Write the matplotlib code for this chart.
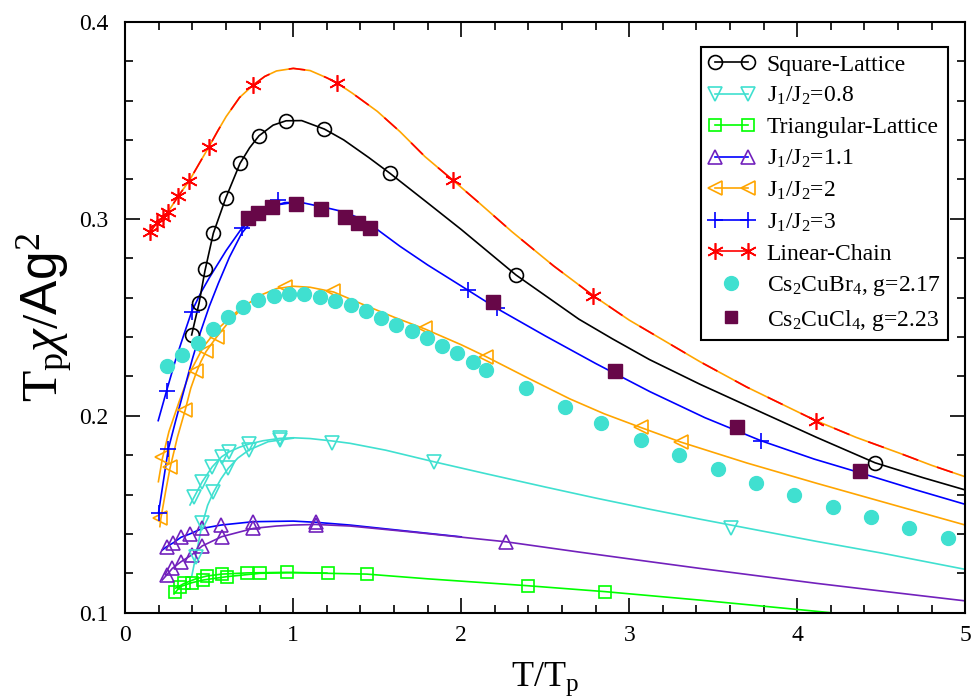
import matplotlib
matplotlib.use('Agg')
import matplotlib.pyplot as plt
from matplotlib.lines import Line2D
from matplotlib.legend_handler import HandlerLine2D
from matplotlib.ticker import MultipleLocator, FormatStrFormatter

plt.rcParams['font.family'] = ['Liberation Serif', 'DejaVu Serif']
plt.rcParams['mathtext.fontset'] = 'custom'
plt.rcParams['mathtext.rm'] = 'Liberation Serif'
plt.rcParams['mathtext.it'] = 'Liberation Serif:italic'
plt.rcParams['mathtext.sf'] = 'Liberation Sans'

# ---------------- data ----------------
# Linear chain (curve + markers)
lc_x = [0.148, 0.187, 0.222, 0.252, 0.316, 0.381, 0.44, 0.498, 0.55, 0.6, 0.68, 0.762, 0.83, 0.9,
        1.0, 1.1, 1.2, 1.258, 1.35, 1.5, 1.635, 1.784, 1.949, 2.1, 2.3, 2.55, 2.786, 3.0, 3.12,
        3.421, 3.7, 4.11, 4.35, 4.611, 4.8, 5.0]
lc_y = [0.2934, 0.2977, 0.3010, 0.3032, 0.3115, 0.3193, 0.3280, 0.3365, 0.3445, 0.3518, 0.3615,
        0.3679, 0.3722, 0.3750, 0.3763, 0.3752, 0.3715, 0.3690, 0.3638, 0.3545, 0.3442, 0.3315,
        0.3196, 0.3085, 0.2935, 0.2760, 0.2609, 0.2485, 0.2425, 0.2274, 0.2145, 0.1975, 0.1890,
        0.1809, 0.1748, 0.1690]
lc_mx = [0.148, 0.187, 0.222, 0.252, 0.316, 0.381, 0.498, 0.762, 1.258, 1.949, 2.786, 4.110]
lc_my = [0.2934, 0.2977, 0.3010, 0.3032, 0.3115, 0.3193, 0.3365, 0.3679, 0.3690, 0.3196, 0.2609, 0.1975]

# Square lattice
sq_x = [0.395, 0.439, 0.474, 0.524, 0.599, 0.683, 0.74, 0.796, 0.88, 0.957, 1.05, 1.185, 1.3,
        1.45, 1.576, 1.8, 2.0, 2.326, 2.7, 2.9, 3.12, 3.42, 3.8, 4.115, 4.463, 4.75, 5.0]
sq_y = [0.2410, 0.2571, 0.2735, 0.2926, 0.3107, 0.3281, 0.3360, 0.3421, 0.3475, 0.3497, 0.3498,
        0.3455, 0.3400, 0.3310, 0.3230, 0.3080, 0.2945, 0.2714, 0.2490, 0.2390, 0.2285, 0.2160,
        0.2012, 0.1890, 0.1761, 0.1685, 0.1623]
sq_mx = [0.395, 0.439, 0.474, 0.524, 0.599, 0.683, 0.796, 0.957, 1.185, 1.576, 2.326, 4.463]
sq_my = [0.2410, 0.2571, 0.2743, 0.2926, 0.3107, 0.3281, 0.3421, 0.3497, 0.3455, 0.3230, 0.2714, 0.1761]

# J1/J2 = 3 (two branches)
j3a_x = [0.196, 0.246, 0.3, 0.35, 0.395, 0.45, 0.5, 0.6, 0.693, 0.8, 0.875, 0.95, 1.05, 1.2, 1.3,
         1.387, 1.5, 1.635, 1.8, 2.038, 2.211, 2.5, 2.8, 3.123, 3.45, 3.784, 4.1, 4.371, 4.7, 5.0]
j3a_y = [0.1975, 0.2127, 0.2285, 0.2415, 0.2528, 0.2625, 0.2700, 0.2838, 0.2951, 0.3025, 0.3062,
         0.3082, 0.3082, 0.3055, 0.3035, 0.3005, 0.2945, 0.2860, 0.2765, 0.2638, 0.2545, 0.2405,
         0.2265, 0.2122, 0.1990, 0.1873, 0.1780, 0.1711, 0.1625, 0.1550]
j3b_x = [0.198, 0.256, 0.3, 0.355, 0.4, 0.445, 0.5, 0.554, 0.62, 0.693, 0.75, 0.8, 0.9, 1.0]
j3b_y = [0.1508, 0.1830, 0.1975, 0.2147, 0.2290, 0.2418, 0.2555, 0.2672, 0.2805, 0.2926, 0.2985,
         0.3020, 0.3070, 0.3082]
j3_mx = [0.198, 0.256, 0.246, 0.395, 0.693, 0.907, 2.038, 2.211, 3.784]
j3_my = [0.1508, 0.1830, 0.2127, 0.2528, 0.2951, 0.3095, 0.2638, 0.2545, 0.1873]

# J1/J2 = 2 (two branches)
j2a_x = [0.197, 0.22, 0.26, 0.32, 0.385, 0.465, 0.55, 0.62, 0.7]
j2a_y = [0.1665, 0.1780, 0.1920, 0.2070, 0.2220, 0.2350, 0.2440, 0.2495, 0.2555]
j2b_x = [0.206, 0.212, 0.24, 0.266, 0.31, 0.356, 0.39, 0.421, 0.45, 0.48, 0.544, 0.62, 0.7, 0.8,
         0.9, 1.0, 1.1, 1.24, 1.4, 1.6, 1.784, 2.0, 2.147, 2.4, 2.647, 2.85, 3.069, 3.307, 3.7,
         4.115, 4.611, 5.0]
j2b_y = [0.1437, 0.1480, 0.1615, 0.1733, 0.1890, 0.2027, 0.2140, 0.2215, 0.2275, 0.2325, 0.2400,
         0.2480, 0.2550, 0.2610, 0.2645, 0.2657, 0.2652, 0.2628, 0.2570, 0.2500, 0.2440, 0.2360,
         0.2300, 0.2190, 0.2085, 0.2010, 0.1940, 0.1866, 0.1760, 0.1657, 0.1538, 0.1445]
j2_mx = [0.208, 0.22, 0.264, 0.356, 0.421, 0.48, 0.544, 0.951, 1.238, 1.784, 2.147, 3.069, 3.307]
j2_my = [0.1480, 0.1790, 0.1740, 0.2027, 0.2225, 0.2330, 0.2398, 0.2655, 0.2634, 0.2444, 0.2300,
         0.1944, 0.1866]

# J1/J2 = 0.8 (two branches)
j08a_x = [0.385, 0.411, 0.458, 0.518, 0.574, 0.619, 0.68, 0.736, 0.82, 0.921, 1.0, 1.1, 1.229,
          1.337, 1.55, 1.833, 2.15, 2.5, 2.8, 3.123, 3.42, 3.605, 3.85, 4.115, 4.5, 5.0]
j08a_y = [0.1547, 0.1589, 0.1665, 0.1741, 0.1792, 0.1817, 0.1840, 0.1856, 0.1873, 0.1885, 0.1888,
          0.1884, 0.1872, 0.1860, 0.1825, 0.1767, 0.1705, 0.1638, 0.1582, 0.1525, 0.1475, 0.1445,
          0.1405, 0.1362, 0.1303, 0.1220]
j08b_x = [0.395, 0.419, 0.455, 0.49, 0.524, 0.57, 0.613, 0.67, 0.736, 0.85, 1.0]
j08b_y = [0.1183, 0.1284, 0.1440, 0.1545, 0.1610, 0.1680, 0.1733, 0.1785, 0.1826, 0.1868, 0.1886]
j08_mx = [0.411, 0.458, 0.518, 0.574, 0.619, 0.736, 0.921, 1.229, 1.838, 3.605,
          0.419, 0.455, 0.524, 0.613, 0.736, 0.921]
j08_my = [0.1589, 0.1665, 0.1741, 0.1792, 0.1817, 0.1856, 0.1885, 0.1863, 0.1767, 0.1428,
          0.1284, 0.1454, 0.1614, 0.1733, 0.1826, 0.1878]

# J1/J2 = 1.1 (two branches)
j11a_x = [0.22, 0.246, 0.286, 0.332, 0.385, 0.458, 0.570, 0.762, 1.0, 1.133, 1.337, 2.0]
j11a_y = [0.1318, 0.1335, 0.1355, 0.1383, 0.1400, 0.1428, 0.1445, 0.1462, 0.1465, 0.1459, 0.1445,
          0.1385]
j11b_x = [0.22, 0.246, 0.280, 0.332, 0.395, 0.458, 0.574, 0.762, 0.9, 1.0, 1.133, 1.337, 1.7,
          2.266, 2.7, 3.123, 3.42, 4.115, 4.5, 5.0]
j11b_y = [0.1166, 0.1191, 0.1225, 0.1259, 0.1293, 0.1339, 0.1386, 0.1428, 0.1440, 0.1445, 0.1448,
          0.1440, 0.1410, 0.1360, 0.1308, 0.1259, 0.1225, 0.1149, 0.1110, 0.1060]
j11_mx = [0.246, 0.286, 0.332, 0.385, 0.458, 0.570, 0.762, 1.133,
          0.246, 0.280, 0.332, 0.395, 0.458, 0.574, 0.762, 1.133, 2.266]
j11_my = [0.1335, 0.1355, 0.1383, 0.1400, 0.1428, 0.1445, 0.1462, 0.1459,
          0.1191, 0.1225, 0.1259, 0.1293, 0.1339, 0.1386, 0.1428, 0.1445, 0.1360]

# Triangular lattice (two branches)
tr_a_x = [0.30, 0.351, 0.42, 0.484, 0.574, 0.723, 0.961, 1.2]
tr_a_y = [0.1125, 0.1149, 0.1172, 0.1186, 0.1196, 0.1202, 0.1205, 0.1201]
tr_b_x = [0.29, 0.326, 0.395, 0.464, 0.604, 0.802, 1.0, 1.205, 1.437, 1.8, 2.395, 2.855, 3.42, 4.25]
tr_b_y = [0.1095, 0.1132, 0.1152, 0.1166, 0.1183, 0.1200, 0.1203, 0.1200, 0.1196, 0.1172, 0.1137,
          0.1107, 0.1064, 0.0996]
tr_mx = [0.351, 0.484, 0.574, 0.723, 0.961,
         0.296, 0.326, 0.395, 0.464, 0.604, 0.802, 1.205, 1.437, 2.395, 2.855]
tr_my = [0.1149, 0.1186, 0.1196, 0.1200, 0.1205,
         0.1107, 0.1132, 0.1152, 0.1166, 0.1183, 0.1200, 0.1200, 0.1196, 0.1137, 0.1107]

# Experimental data
br_x = [0.246, 0.339, 0.431, 0.520, 0.610, 0.702, 0.792, 0.887, 0.974, 1.065, 1.159, 1.248, 1.343,
        1.431, 1.523, 1.611, 1.705, 1.794, 1.887, 1.976, 2.068, 2.145, 2.385, 2.617, 2.830, 3.070,
        3.298, 3.526, 3.754, 3.982, 4.211, 4.439, 4.667, 4.895]
br_y = [0.2254, 0.2308, 0.2368, 0.2440, 0.2503, 0.2553, 0.2587, 0.2608, 0.2618, 0.2616, 0.2604,
        0.2582, 0.2562, 0.2531, 0.2497, 0.2460, 0.2430, 0.2393, 0.2354, 0.2317, 0.2274, 0.2232,
        0.2139, 0.2046, 0.1961, 0.1877, 0.1799, 0.1728, 0.1660, 0.1597, 0.1538, 0.1484, 0.1428,
        0.1381]
cl_x = [0.732, 0.792, 0.872, 1.014, 1.165, 1.308, 1.383, 1.457, 2.187, 2.915, 3.643, 4.371]
cl_y = [0.3002, 0.3030, 0.3058, 0.3073, 0.3049, 0.3010, 0.2977, 0.2951, 0.2579, 0.2227, 0.1944,
        0.1719]

labels = ['Square-Lattice', r'J$_{\rm 1}$/J$_{\rm 2}$=0.8', 'Triangular-Lattice',
          r'J$_{\rm 1}$/J$_{\rm 2}$=1.1', r'J$_{\rm 1}$/J$_{\rm 2}$=2', r'J$_{\rm 1}$/J$_{\rm 2}$=3',
          'Linear-Chain', r'Cs$_{\rm 2}$CuBr$_{\rm 4}$, g=2.17', r'Cs$_{\rm 2}$CuCl$_{\rm 4}$, g=2.23']

# ---------------- style ----------------
BLACK = 'black'
TURQ = '#40e0d0'
GREEN = '#00ff00'
INDIGO = '#7221bc'
ORANGE = '#ffa500'
BLUE = '#0000ff'
RED = '#ff0000'
MAROON = '#670748'
LW = 1.2
MEW = 1.2

fig = plt.figure(figsize=(9.72, 7.0), dpi=100)
ax = fig.add_axes([0.1289, 0.1247, 0.8642, 0.8443])

# lines
ax.plot(tr_a_x, tr_a_y, color=GREEN, lw=LW, zorder=2)
ax.plot(tr_b_x, tr_b_y, color=GREEN, lw=LW, zorder=2)
ax.plot(j11a_x, j11a_y, color=BLUE, lw=LW, zorder=2)
ax.plot(j11b_x, j11b_y, color=INDIGO, lw=LW, zorder=2.05)
ax.plot(j08a_x, j08a_y, color=TURQ, lw=LW, zorder=2)
ax.plot(j08b_x, j08b_y, color=TURQ, lw=LW, zorder=2)
ax.plot(j2a_x, j2a_y, color=ORANGE, lw=LW, zorder=2)
ax.plot(j2b_x, j2b_y, color=ORANGE, lw=LW, zorder=2)
ax.plot(j3a_x, j3a_y, color=BLUE, lw=LW, zorder=2)
ax.plot(j3b_x, j3b_y, color=BLUE, lw=LW, zorder=2)
ax.plot(sq_x, sq_y, color=BLACK, lw=LW, zorder=2)
ax.plot(lc_x, lc_y, color=ORANGE, lw=LW, zorder=2)
ax.plot(lc_x, lc_y, color=RED, lw=LW, dashes=(10, 12), zorder=2.1)

# markers
ax.plot(tr_mx, tr_my, ls='none', marker='s', ms=8, mfc='none', mec=GREEN, mew=MEW, zorder=3)
ax.plot(j11_mx, j11_my, ls='none', marker='^', ms=10, mfc='none', mec=INDIGO, mew=MEW, zorder=3)
ax.plot(j08_mx, j08_my, ls='none', marker='v', ms=10, mfc='none', mec=TURQ, mew=MEW, zorder=3)
ax.plot(j2_mx, j2_my, ls='none', marker='<', ms=10, mfc='none', mec=ORANGE, mew=MEW, zorder=3)
ax.plot(j3_mx, j3_my, ls='none', marker='+', ms=12, mec=BLUE, mew=MEW, zorder=3)
ax.plot(sq_mx, sq_my, ls='none', marker='o', ms=10, mfc='none', mec=BLACK, mew=MEW, zorder=3)
ax.plot(lc_mx, lc_my, ls='none', marker=(6, 2, 0), ms=12, mec=RED, mew=MEW, zorder=3)
ax.plot(br_x, br_y, ls='none', marker='o', ms=10, mfc=TURQ, mec=TURQ, zorder=4)
ax.plot(cl_x, cl_y, ls='none', marker='s', ms=10, mfc=MAROON, mec=MAROON, zorder=4)

# axes
ax.set_xlim(0, 5)
ax.set_ylim(0.1, 0.4)
ax.xaxis.set_major_locator(MultipleLocator(1))
ax.xaxis.set_minor_locator(MultipleLocator(0.2))
ax.yaxis.set_major_locator(MultipleLocator(0.1))
ax.yaxis.set_minor_locator(MultipleLocator(0.02))
ax.xaxis.set_major_formatter(FormatStrFormatter('%d'))
ax.yaxis.set_major_formatter(FormatStrFormatter('%.1f'))
ax.tick_params(which='both', direction='in', top=True, right=True, width=1.2, labelsize=17)
ax.tick_params(which='major', length=11)
ax.tick_params(axis='y', which='major', pad=12)
ax.tick_params(axis='x', which='major', pad=9)
ax.tick_params(which='minor', length=5.5)
for s in ax.spines.values():
    s.set_linewidth(1.5)

ax.set_xlabel(r'T/T$_{\rm p}$', fontsize=26, labelpad=10)
ax.set_ylabel(r'T$_{\rm p}\chi/\mathsf{Ag}^{2}$', fontsize=37, labelpad=2)

# legend
handles = [
    Line2D([], [], color=BLACK, lw=LW, marker='o', ms=10, mfc='none', mec=BLACK, mew=MEW),
    Line2D([], [], color=TURQ, lw=LW, marker='v', ms=10, mfc='none', mec=TURQ, mew=MEW),
    Line2D([], [], color=GREEN, lw=LW, marker='s', ms=8, mfc='none', mec=GREEN, mew=MEW),
    Line2D([], [], color=BLUE, lw=LW, marker='^', ms=10, mfc='none', mec=INDIGO, mew=MEW),
    Line2D([], [], color=ORANGE, lw=LW, marker='<', ms=10, mfc='none', mec=ORANGE, mew=MEW),
    Line2D([], [], color=BLUE, lw=LW, marker='+', ms=12, mec=BLUE, mew=MEW),
    Line2D([], [], color=RED, lw=LW, marker=(6, 2, 0), ms=12, mec=RED, mew=MEW),
    Line2D([], [], ls='none', marker='o', ms=10, mfc=TURQ, mec=TURQ),
    Line2D([], [], ls='none', marker='s', ms=9, mfc=MAROON, mec=MAROON),
]
hmap = {handles[7]: HandlerLine2D(numpoints=1), handles[8]: HandlerLine2D(numpoints=1)}
leg = ax.legend(handles, labels, loc='upper right', bbox_to_anchor=(0.979, 0.957),
                borderaxespad=0, fontsize=17, numpoints=2, handlelength=2.0,
                handletextpad=0.5, labelspacing=0.4, borderpad=0.3, fancybox=False,
                framealpha=1, edgecolor='black', handler_map=hmap)
leg.get_frame().set_linewidth(1.5)

fig.savefig('out.png', dpi=100)
